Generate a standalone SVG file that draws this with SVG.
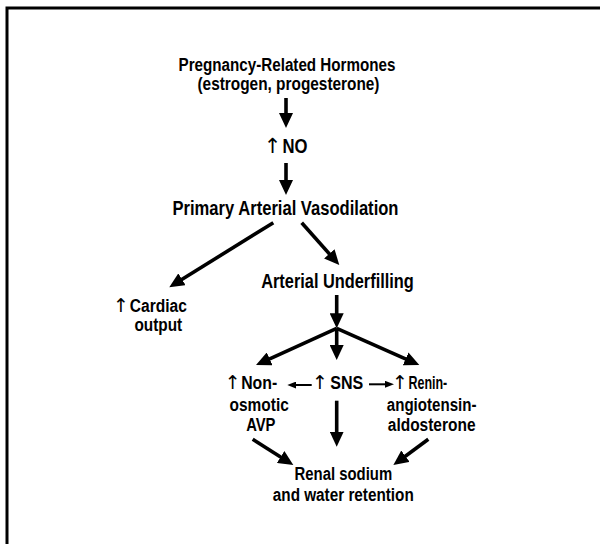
<svg xmlns="http://www.w3.org/2000/svg" width="600" height="544" viewBox="0 0 600 544">
<defs>
<style>
text{font-family:"Liberation Sans",Arial,sans-serif;font-weight:bold;fill:#000}
.s{font-size:18.7px}
.m{font-size:20px}
.l{font-size:21px}
.up{font-family:"DejaVu Sans",sans-serif;font-weight:normal;font-size:19px}
.c{stroke:#000;stroke-width:3.6;fill:none}
.t{stroke:#000;stroke-width:2;fill:none}
</style>
<marker id="ah" markerUnits="userSpaceOnUse" markerWidth="15" markerHeight="14" refX="6" refY="7" orient="auto">
<path d="M0,0 L15,7 L0,14 z" fill="#000"/>
</marker>
<marker id="as" markerUnits="userSpaceOnUse" markerWidth="9" markerHeight="7" refX="4" refY="3.5" orient="auto">
<path d="M0,0 L9,3.5 L0,7 z" fill="#000"/>
</marker>
</defs>
<rect width="600" height="544" fill="#fff"/>
<path d="M7,544 V8 H600" stroke="#000" stroke-width="3" fill="none"/>
<g id="connectors">
<line class="c" x1="286" y1="98" x2="286" y2="119" marker-end="url(#ah)"/>
<line class="c" x1="286" y1="163" x2="286" y2="186" marker-end="url(#ah)"/>
<line class="c" x1="273.3" y1="222.7" x2="176.9" y2="282.5" marker-end="url(#ah)"/>
<line class="c" x1="301.7" y1="222.7" x2="333.3" y2="258.3" marker-end="url(#ah)"/>
<line class="c" x1="336.7" y1="295" x2="336.7" y2="319.3" marker-end="url(#ah)"/>
<line class="c" x1="336.7" y1="328.3" x2="264.2" y2="361.3" marker-end="url(#ah)"/>
<line class="c" x1="336.7" y1="328.3" x2="336.7" y2="351" marker-end="url(#ah)"/>
<line class="c" x1="336.7" y1="328.3" x2="411.1" y2="361.3" marker-end="url(#ah)"/>
<line class="t" x1="311.7" y1="385" x2="292.3" y2="385" marker-end="url(#as)"/>
<line class="t" x1="369" y1="384.3" x2="389" y2="384.3" marker-end="url(#as)"/>
<line class="c" x1="336.7" y1="400.7" x2="336.7" y2="437.7" marker-end="url(#ah)"/>
<line class="c" x1="252.7" y1="439.3" x2="285.7" y2="460.2" marker-end="url(#ah)"/>
<line class="c" x1="428.3" y1="439.3" x2="400.6" y2="459.7" marker-end="url(#ah)"/>
</g>
<g id="hormones">
<text class="s" x="178.5" y="70.7" textLength="217" lengthAdjust="spacingAndGlyphs">Pregnancy-Related Hormones</text>
<text class="s" x="197.5" y="90" textLength="182" lengthAdjust="spacingAndGlyphs">(estrogen, progesterone)</text>
</g>
<g id="no">
<text class="up" x="272.5" y="152.7" text-anchor="middle" style="font-size:21px">↑</text>
<text class="l" x="282.5" y="152.7" textLength="25" lengthAdjust="spacingAndGlyphs">NO</text>
</g>
<g id="vasodilation">
<text class="l" x="172.5" y="215" textLength="226" lengthAdjust="spacingAndGlyphs">Primary Arterial Vasodilation</text>
</g>
<g id="underfilling">
<text class="m" x="261.2" y="288.3" textLength="152.6" lengthAdjust="spacingAndGlyphs">Arterial Underfilling</text>
</g>
<g id="cardiac">
<text class="up" x="121" y="311.7" text-anchor="middle">↑</text>
<text class="s" x="129.8" y="311.7" textLength="57" lengthAdjust="spacingAndGlyphs">Cardiac</text>
<text class="s" x="134.5" y="331" textLength="47.7" lengthAdjust="spacingAndGlyphs">output</text>
</g>
<g id="avp">
<text class="up" x="232.8" y="389.3" text-anchor="middle">↑</text>
<text class="s" x="241.2" y="389.3" textLength="36" lengthAdjust="spacingAndGlyphs">Non-</text>
<text class="s" x="229.5" y="410.7" textLength="59.3" lengthAdjust="spacingAndGlyphs">osmotic</text>
<text class="s" x="246.2" y="430.7" textLength="29.3" lengthAdjust="spacingAndGlyphs">AVP</text>
</g>
<g id="sns">
<text class="up" x="320" y="389.3" text-anchor="middle">↑</text>
<text class="s" x="330.2" y="389.3" textLength="33" lengthAdjust="spacingAndGlyphs">SNS</text>
</g>
<g id="raas">
<text class="up" x="400" y="389.3" text-anchor="middle">↑</text>
<text class="s" x="408.5" y="389.3" textLength="38.7" lengthAdjust="spacingAndGlyphs">Renin-</text>
<text class="s" x="386.8" y="410.7" textLength="89.7" lengthAdjust="spacingAndGlyphs">angiotensin-</text>
<text class="s" x="387.8" y="430.7" textLength="87.7" lengthAdjust="spacingAndGlyphs">aldosterone</text>
</g>
<g id="retention">
<text class="s" x="294.5" y="480" textLength="97.7" lengthAdjust="spacingAndGlyphs">Renal sodium</text>
<text class="s" x="272.8" y="500.7" textLength="141" lengthAdjust="spacingAndGlyphs">and water retention</text>
</g>
</svg>
